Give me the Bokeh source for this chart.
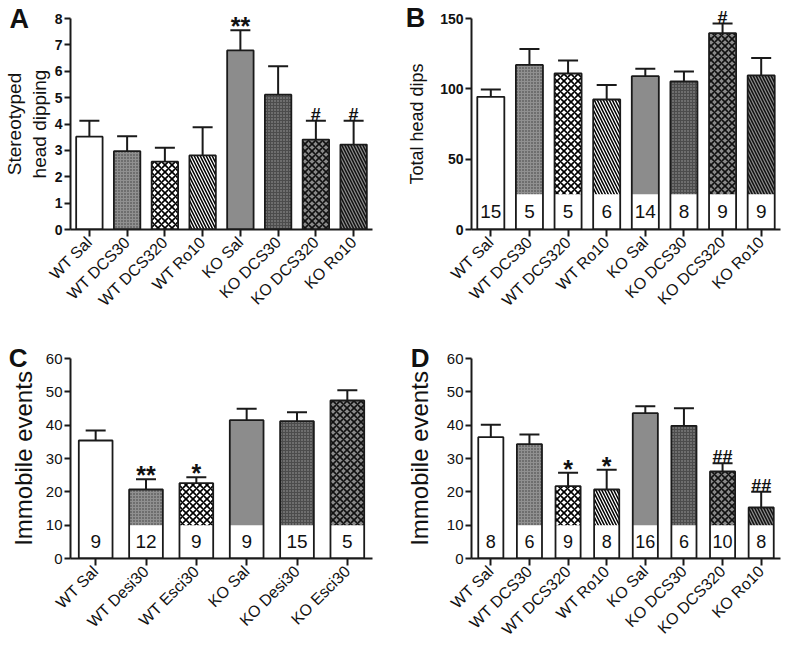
import numpy as np
from bokeh.plotting import figure
from bokeh.models import (FactorRange, Range1d, Whisker, ColumnDataSource,
                          FixedTicker, TeeHead)
from bokeh.layouts import gridplot
from bokeh.embed import file_html
from bokeh.resources import INLINE
from bokeh.core.properties import value

# ---------------- data ----------------
cats_abd = ["WT Sal", "WT DCS30", "WT DCS320", "WT Ro10",
            "KO Sal", "KO DCS30", "KO DCS320", "KO Ro10"]
cats_c = ["WT Sal", "WT Desi30", "WT Esci30", "KO Sal", "KO Desi30", "KO Esci30"]

a_mean = [3.52, 2.97, 2.57, 2.81, 6.79, 5.11, 3.41, 3.22]
a_sem = [0.60, 0.57, 0.53, 1.07, 0.76, 1.08, 0.71, 0.90]
a_marks = ["", "", "", "", "**", "", "#", "#"]

b_mean = [94.3, 117.0, 110.9, 92.4, 109.0, 105.2, 139.6, 109.5]
b_sem = [5.2, 11.4, 9.2, 10.4, 5.2, 7.1, 6.8, 12.5]
b_n = [15, 5, 5, 6, 14, 8, 9, 9]
b_marks = ["", "", "", "", "", "", "#", ""]

c_mean = [35.4, 20.7, 22.6, 41.5, 41.2, 47.4]
c_sem = [3.0, 3.1, 1.8, 3.4, 2.7, 3.1]
c_n = [9, 12, 9, 9, 15, 5]
c_marks = ["", "**", "*", "", "", ""]

d_mean = [36.4, 34.3, 21.7, 20.7, 43.6, 39.8, 26.1, 15.3]
d_sem = [3.7, 2.9, 4.0, 5.9, 2.1, 5.3, 2.5, 4.7]
d_n = [8, 6, 9, 8, 16, 6, 10, 8]
d_marks = ["", "", "*", "*", "", "", "##", "##"]

# ---------------- styles ----------------
STYLES = {
    "open":   dict(fill="white",   hatch=" ", hcolor="black", scale=6, weight=1.0),
    "stip_l": dict(fill="#909090", hatch="dot", hcolor="#3a3a3a", scale=3, weight=1.0),
    "net_l":  dict(fill="white",   hatch="diagonal_cross", hcolor="black", scale=7, weight=1.6),
    "diag_l": dict(fill="white",   hatch="left_diagonal_line", hcolor="black", scale=6, weight=1.5),
    "solid":  dict(fill="#8c8c8c", hatch=" ", hcolor="black", scale=6, weight=1.0),
    "stip_d": dict(fill="#4c4c4c", hatch="dot", hcolor="#a0a0a0", scale=3, weight=1.0),
    "net_d":  dict(fill="#8a8a8a", hatch="diagonal_cross", hcolor="#111111", scale=7, weight=1.6),
    "diag_d": dict(fill="#8c8c8c", hatch="left_diagonal_line", hcolor="#111111", scale=6, weight=1.5),
}
style_abd = ["open", "stip_l", "net_l", "diag_l", "solid", "stip_d", "net_d", "diag_d"]
style_c = ["open", "stip_l", "net_l", "solid", "stip_d", "net_d"]

FONT = "Liberation Sans"


def panel(letter, letter_off, letter_size, cats, mean, sem, ns, marks, styles,
          ymax, yticks, ylabel, ylabel_size, tick_size, tick_bold, height, borders,
          bar_w, box_h, n_size, label_standoff):
    left, right, top, bottom = borders
    p = figure(width=392, height=height, output_backend="svg", toolbar_location=None,
               x_range=FactorRange(factors=cats, range_padding=0),
               y_range=Range1d(0, ymax),
               min_border_left=left, min_border_right=right,
               min_border_top=top, min_border_bottom=bottom)
    p.outline_line_color = None
    p.xgrid.visible = False
    p.ygrid.visible = False
    p.background_fill_color = "white"

    st = [STYLES[s] for s in styles]
    src = ColumnDataSource(dict(
        x=cats, mean=mean,
        upper=[m + s for m, s in zip(mean, sem)],
        fill=[s["fill"] for s in st], hatch=[s["hatch"] for s in st],
        hcolor=[s["hcolor"] for s in st], scale=[s["scale"] for s in st],
        weight=[s["weight"] for s in st],
        n=[str(v) for v in ns] if ns else [""] * len(cats),
        star=[m if "*" in m else "" for m in marks],
        hash=[m if "#" in m else "" for m in marks],
    ))

    p.vbar(x="x", top="mean", width=bar_w, source=src, fill_color="fill",
           hatch_pattern="hatch", hatch_color="hcolor", hatch_scale="scale",
           hatch_weight="weight", line_color=None)
    if ns:
        p.vbar(x="x", top=box_h, width=bar_w, source=src, fill_color="white",
               line_color=None)
    p.vbar(x="x", top="mean", width=bar_w, source=src, fill_color=None,
           line_color="#1a1a1a", line_width=1.8)

    w = Whisker(source=src, base="x", upper="upper", lower="mean", dimension="height",
                line_color="#1a1a1a", line_width=2,
                upper_head=TeeHead(size=20, line_width=2, line_color="#1a1a1a"),
                lower_head=None)
    p.add_layout(w)

    if ns:
        p.text(x="x", y=box_h / 2, text="n", source=src, text_align="center",
               text_baseline="middle", text_font=value(FONT),
               text_font_size=n_size, text_color="#111111")

    r1 = p.text(x="x", y="upper", text="star", source=src, text_align="center",
                text_baseline="alphabetic", text_font=value(FONT), text_font_style="bold",
                text_font_size="25px", y_offset=-4, text_color="#111111")
    r2 = p.text(x="x", y="upper", text="hash", source=src, text_align="center",
                text_baseline="alphabetic", text_font=value(FONT), text_font_style="bold",
                text_font_size="18px", y_offset=-6, text_color="#111111")
    r1.level = "overlay"
    r2.level = "overlay"

    # panel letter: anchored at the first category / top of the y range, offset in px
    r3 = p.text(x=[cats[0]], y=[ymax], text=[letter], text_align="left",
                text_baseline="alphabetic", text_font=value(FONT), text_font_style="bold",
                text_font_size=letter_size, x_offset=letter_off[0], y_offset=letter_off[1],
                text_color="#111111")
    r3.level = "overlay"

    for ax in (p.xaxis[0], p.yaxis[0]):
        ax.axis_line_width = 2
        ax.axis_line_color = "#1a1a1a"
        ax.major_tick_line_width = 2
        ax.major_tick_line_color = "#1a1a1a"
        ax.minor_tick_line_color = None
        ax.major_tick_in = 0
        ax.major_label_text_font = FONT
        ax.major_label_text_color = "#111111"

    p.yaxis.ticker = FixedTicker(ticks=yticks)
    p.yaxis.major_tick_out = 6
    p.yaxis.major_label_standoff = 2
    p.yaxis.major_label_text_font_size = tick_size
    p.yaxis.major_label_text_font_style = "bold" if tick_bold else "normal"
    p.yaxis.axis_label = ylabel
    p.yaxis.axis_label_text_font = FONT
    p.yaxis.axis_label_text_font_style = "normal"
    p.yaxis.axis_label_text_font_size = ylabel_size
    p.yaxis.axis_label_text_color = "#111111"
    p.yaxis.axis_label_standoff = label_standoff

    p.xaxis.major_tick_out = 7
    p.xaxis.major_label_orientation = np.pi / 4
    p.xaxis.major_label_standoff = 3
    p.xaxis.major_label_text_font_size = "16px"
    return p


pa = panel("A", (-80, 0), "27px", cats_abd, a_mean, a_sem, None, a_marks, style_abd,
           8, list(range(0, 9)), "Stereotyped\nhead dipping", "19px", "14px", True,
           327, (60, 13, 18, 98), 0.7, 0, "18px", 2)
pb = panel("B", (-85, -1), "27px", cats_abd, b_mean, b_sem, b_n, b_marks, style_abd,
           150, [0, 50, 100, 150], "Total head dips", "18px", "14px", True,
           327, (79, 2, 18, 98), 0.7, 25, "19px", 10)
pc = panel("C", (-87, -1), "26px", cats_c, c_mean, c_sem, c_n, c_marks, style_c,
           60, list(range(0, 61, 10)), "Immobile events", "24px", "15px", False,
           320, (61, 20, 30, 83), 0.67, 10, "19px", 6)
pd = panel("D", (-80, -1), "26px", cats_abd, d_mean, d_sem, d_n, d_marks, style_abd,
           60, list(range(0, 61, 10)), "Immobile events", "24px", "15px", False,
           320, (77, 4, 31, 83), 0.65, 10, "18px", 11)

grid = gridplot([[pa, pb], [pc, pd]], toolbar_location=None)
open("out.html", "w").write(file_html(grid, INLINE))
